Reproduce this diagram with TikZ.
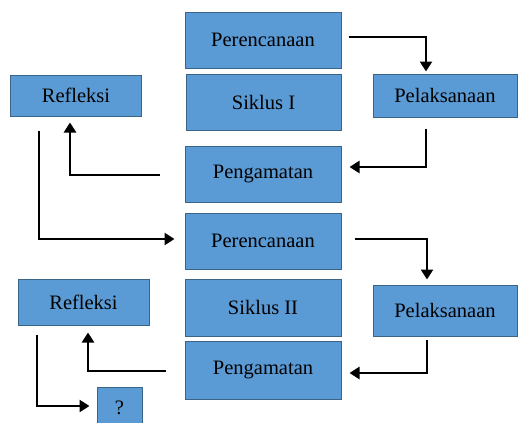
\documentclass[tikz,border=0pt]{standalone}
\usepackage{fontspec}
\setmainfont{Liberation Serif}
\usetikzlibrary{arrows.meta}
\definecolor{boxfill}{HTML}{5B9BD5}
\definecolor{boxline}{HTML}{3B6587}
\begin{document}
\begin{tikzpicture}[x=1pt,y=-1pt]
		\tikzstyle{tahap}=[draw=boxline,fill=boxfill,line width=1pt,inner sep=0pt,font=\fontsize{20.5}{24}\selectfont]
		\tikzstyle{alur}=[black,line width=2.6pt,-{Triangle[length=10pt,width=12pt]}]
		\useasboundingbox (0,0) rectangle (520,423);
		% siklus I
		\node [tahap,minimum width=156pt,minimum height=56pt] (per1) at (263,40) {Perencanaan};
		\node [tahap,minimum width=155pt,minimum height=56pt] (sik1) at (263.5,102) {Siklus I};
		\node [tahap,minimum width=156pt,minimum height=56pt] (pen1) at (263,174) {Pengamatan};
		\node [tahap,minimum width=131pt,minimum height=41pt] (ref1) at (76,95.5) {Refleksi};
		\node [tahap,minimum width=144pt,minimum height=43pt] (pel1) at (445,95.5) {Pelaksanaan};
		% siklus II
		\node [tahap,minimum width=156pt,minimum height=56pt] (per2) at (263,241) {Perencanaan};
		\node [tahap,minimum width=156pt,minimum height=57pt] (sik2) at (263,307.5) {Siklus II};
		\node [tahap,minimum width=156pt,minimum height=58pt] (pen2) at (263,370) {Pengamatan};
		\node [tahap,minimum width=131pt,minimum height=46pt] (ref2) at (83.5,302) {Refleksi};
		\node [tahap,minimum width=144pt,minimum height=51pt] (pel2) at (445,310.5) {Pelaksanaan};
		\node [tahap,minimum width=45pt,minimum height=42pt] (lanjut) at (119.5,408) {?};
		% alur
		\draw [alur] ([shift={(7pt,3pt)}]per1.east) -| ([shift={(-19pt,2pt)}]pel1.north);
		\draw [alur] ([shift={(-19pt,-11pt)}]pel1.south) |- ([shift={(8pt,7pt)}]pen1.east);
		\draw [alur] ([shift={(-25pt,-1pt)}]pen1.west) -| ([shift={(-6pt,-6pt)}]ref1.south);
		\draw [alur] ([shift={(-37pt,-14pt)}]ref1.south) |- ([shift={(-10pt,2pt)}]per2.west);
		\draw [alur] ([shift={(13pt,2pt)}]per2.east) -| ([shift={(-18pt,5pt)}]pel2.north);
		\draw [alur] ([shift={(-18pt,-3pt)}]pel2.south) |- ([shift={(8pt,-3pt)}]pen2.east);
		\draw [alur] ([shift={(-19pt,-1pt)}]pen2.west) -| ([shift={(4.5pt,-7pt)}]ref2.south);
		\draw [alur] ([shift={(-46.5pt,-9pt)}]ref2.south) |- ([shift={(-7pt,2pt)}]lanjut.west);
\end{tikzpicture}
\end{document}
